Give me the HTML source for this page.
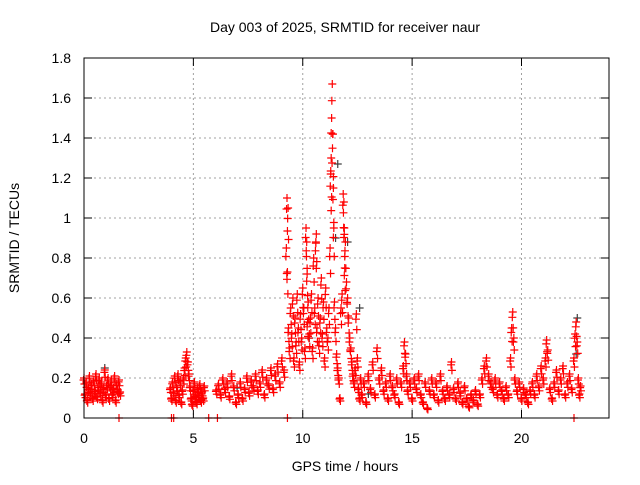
<!DOCTYPE html>
<html><head><meta charset="utf-8"><style>
body{margin:0;background:#fff}
svg text{font-family:"Liberation Sans",sans-serif;font-size:14px;fill:#000}
</style></head><body>
<svg id="chart" width="640" height="480" viewBox="0 0 640 480" xmlns="http://www.w3.org/2000/svg">
<rect width="640" height="480" fill="#fff"/>
<text x="345" y="32" text-anchor="middle">Day 003 of 2025, SRMTID for receiver naur</text>
<text transform="translate(19,238) rotate(-90)" text-anchor="middle">SRMTID / TECUs</text>
<text x="345" y="471" text-anchor="middle">GPS time / hours</text>
<g id="grid"></g>
<g id="ticks"></g>
<g id="marks"></g>
<rect x="84" y="58" width="525" height="360" fill="none" stroke="#000" stroke-width="1"/>
</svg>
<script>
const xTicks=[0,5,10,15,20];
const yTicks=[0,0.2,0.4,0.6,0.8,1,1.2,1.4,1.6,1.8];
const yTickLabels=["0","0.2","0.4","0.6","0.8","1","1.2","1.4","1.6","1.8"];
const redTimes=[0.00,0.05,0.10,0.15,0.20,0.25,0.30,0.35,0.40,0.45,0.50,0.55,0.60,0.65,0.70,0.75,0.80,0.85,0.90,0.95,1.00,1.05,1.10,1.15,1.20,1.25,1.30,1.35,1.40,1.45,1.50,1.55,1.60,1.65,
3.95,4.00,4.05,4.10,4.15,4.20,4.25,4.30,4.35,4.40,4.45,4.50,4.55,4.60,4.65,4.70,4.75,4.80,4.85,4.90,4.95,5.00,5.05,5.10,5.15,5.20,5.25,5.30,5.35,5.40,5.45,5.50,
6.05,6.15,6.25,6.35,6.45,6.55,6.65,6.75,6.85,6.95,7.05,7.15,7.25,7.35,7.45,7.55,7.65,7.75,7.85,7.95,8.05,8.15,8.25,8.35,8.45,8.55,8.65,8.75,8.85,8.95,9.05,9.15,
9.25,9.28,9.30,9.33,9.35,9.40,9.45,9.50,9.55,9.60,9.65,9.70,9.75,9.80,9.85,9.90,9.95,10.0,10.05,10.1,10.15,10.18,10.2,10.22,10.25,10.3,10.35,10.4,10.45,10.5,10.55,10.6,10.62,10.65,10.7,10.75,10.8,10.85,10.9,10.95,11.0,11.05,11.1,11.15,11.2,11.25,11.28,11.3,11.32,11.35,11.38,11.4,11.42,11.45,11.5,11.55,11.6,11.65,11.7,11.75,11.8,11.85,11.88,11.9,11.92,11.95,12.0,12.05,12.1,12.15,12.2,12.25,12.3,12.35,12.4,12.45,12.5,12.55,12.6,12.65,12.7,
12.8,12.9,13.0,13.1,13.2,13.3,13.4,13.5,13.6,13.7,13.8,13.9,14.0,14.1,14.2,14.3,14.4,14.5,14.6,14.65,14.7,14.75,14.8,14.9,15.0,15.1,15.2,15.3,15.4,15.5,15.6,15.7,15.8,15.9,16.0,16.1,16.2,16.3,16.4,16.5,16.6,16.7,16.8,16.9,17.0,17.1,17.2,17.3,17.4,17.5,17.6,17.7,17.8,17.9,18.0,18.1,18.2,18.3,18.4,18.5,18.6,18.7,18.8,18.9,19.0,19.1,19.2,19.3,19.4,19.5,19.55,19.6,19.65,19.7,19.8,19.9,20.0,20.1,20.2,20.3,20.4,20.5,20.6,20.7,20.8,20.9,21.0,21.1,21.15,21.2,21.3,21.4,21.5,21.6,21.7,21.8,21.9,22.0,22.1,22.2,22.3,22.4,22.45,22.5,22.55,22.6,22.65,22.7,
1.6,4.0,4.1,5.7,6.1,9.3,22.4];
const redValues=[.20,.12,.18,.09,.15,.21,.13,.17,.10,.19,.14,.22,.11,.16,.20,.13,.18,.09,.15,.24,.12,.17,.20,.10,.16,.19,.12,.15,.21,.09,.17,.14,.19,.13,
.15,.10,.18,.13,.21,.09,.16,.22,.12,.19,.08,.14,.20,.25,.30,.33,.28,.22,.16,.10,.07,.14,.18,.11,.08,.15,.12,.17,.09,.13,.10,.16,
.14,.17,.12,.20,.15,.18,.11,.22,.16,.08,.12,.18,.10,.15,.21,.13,.19,.16,.22,.14,.18,.24,.12,.20,.17,.25,.15,.22,.27,.18,.30,.24,
.85,1.1,.73,1.05,.45,.35,.55,.42,.60,.30,.50,.38,.62,.45,.28,.52,.40,.65,.55,.35,.95,.88,.72,.48,.58,.42,.50,.62,.35,.80,.55,.88,.92,.45,.60,.38,.50,.70,.42,.58,.30,.65,.45,.40,.55,.85,1.22,1.3,1.5,1.67,1.42,1.15,.95,.58,.45,.32,.25,.20,.10,.55,.62,1.12,1.08,.95,.75,.88,.68,.60,.50,.40,.35,.28,.22,.18,.25,.52,.30,.15,.10,.20,.12,
.18,.08,.22,.15,.28,.12,.35,.20,.25,.14,.18,.10,.22,.16,.12,.20,.08,.18,.26,.38,.32,.22,.14,.18,.10,.20,.15,.22,.12,.08,.18,.05,.14,.20,.12,.18,.09,.22,.14,.10,.16,.12,.28,.15,.10,.18,.13,.08,.16,.10,.06,.12,.09,.14,.07,.12,.20,.26,.30,.22,.18,.15,.20,.12,.18,.14,.10,.16,.12,.30,.45,.53,.40,.20,.14,.18,.10,.15,.12,.08,.14,.18,.12,.22,.16,.26,.20,.30,.39,.34,.15,.10,.18,.24,.14,.20,.26,.12,.18,.22,.15,.30,.42,.48,.38,.20,.12,.16,
0,0,0,0,0,0,0];
const grayTimes=[0.95,7.0,10.3,11.5,11.6,12.05,12.6,13.0,22.5,22.55];
const grayValues=[.25,.15,.40,.90,1.27,.88,.55,.12,.32,.50];
const X0=84,X1=609,Y0=418,Y1=58,XMAX=24,YMAX=1.8;
function xs(t){return X0+(X1-X0)*t/XMAX;}
function ys(v){return Y0-(Y0-Y1)*v/YMAX;}
const NS="http://www.w3.org/2000/svg";
const grid=document.getElementById('grid'),ticks=document.getElementById('ticks'),marks=document.getElementById('marks');
function mk(tag,attrs,parent){const e=document.createElementNS(NS,tag);for(const k in attrs)e.setAttribute(k,attrs[k]);parent.appendChild(e);return e;}
yTicks.forEach((v,i)=>{const y=ys(v);
 if(i>0&&i<yTicks.length-1){const g=mk('line',{x1:X0,x2:X1,y1:y,y2:y,stroke:'#a0a0a0','stroke-dasharray':'2,3'},grid);
 
 }
 const t=mk('line',{x1:X0,x2:X0+8,y1:y,y2:y,stroke:'#000'},ticks);
 
 
 mk('line',{x1:X1-8,x2:X1,y1:y,y2:y,stroke:'#000'},ticks);
 const l=mk('text',{x:X0-13,y:y+5,'text-anchor':'end'},ticks);l.textContent=yTickLabels[i];
 
 
});
xTicks.forEach(v=>{const x=xs(v);
 if(v>0){const g=mk('line',{x1:x,x2:x,y1:Y1,y2:Y0,stroke:'#a0a0a0','stroke-dasharray':'2,3'},grid);
 
 }
 const t=mk('line',{x1:x,x2:x,y1:Y0,y2:Y0-8,stroke:'#000'},ticks);
 
 
 mk('line',{x1:x,x2:x,y1:Y1,y2:Y1+8,stroke:'#000'},ticks);
 const l=mk('text',{x:x,y:Y0+25,'text-anchor':'middle'},ticks);l.textContent=String(v);
 
 
});
function plus(t,v,col){const x=xs(t),y=ys(v);
 const p=mk('path',{d:`M${x-4} ${y}H${x+4}M${x} ${y-4}V${y+4}`,stroke:col,'stroke-width':1.2,fill:'none'},marks);
 
 }
grayTimes.forEach((t,i)=>plus(t,grayValues[i],'#404040'));
redTimes.forEach((t,i)=>{plus(t,redValues[i],'#ff0000');
 if(redValues[i]>0){plus(t+0.02,redValues[i]*0.85,'#ff0000');plus(t-0.02,redValues[i]*0.95,'#ff0000');}});
</script>
</body></html>
